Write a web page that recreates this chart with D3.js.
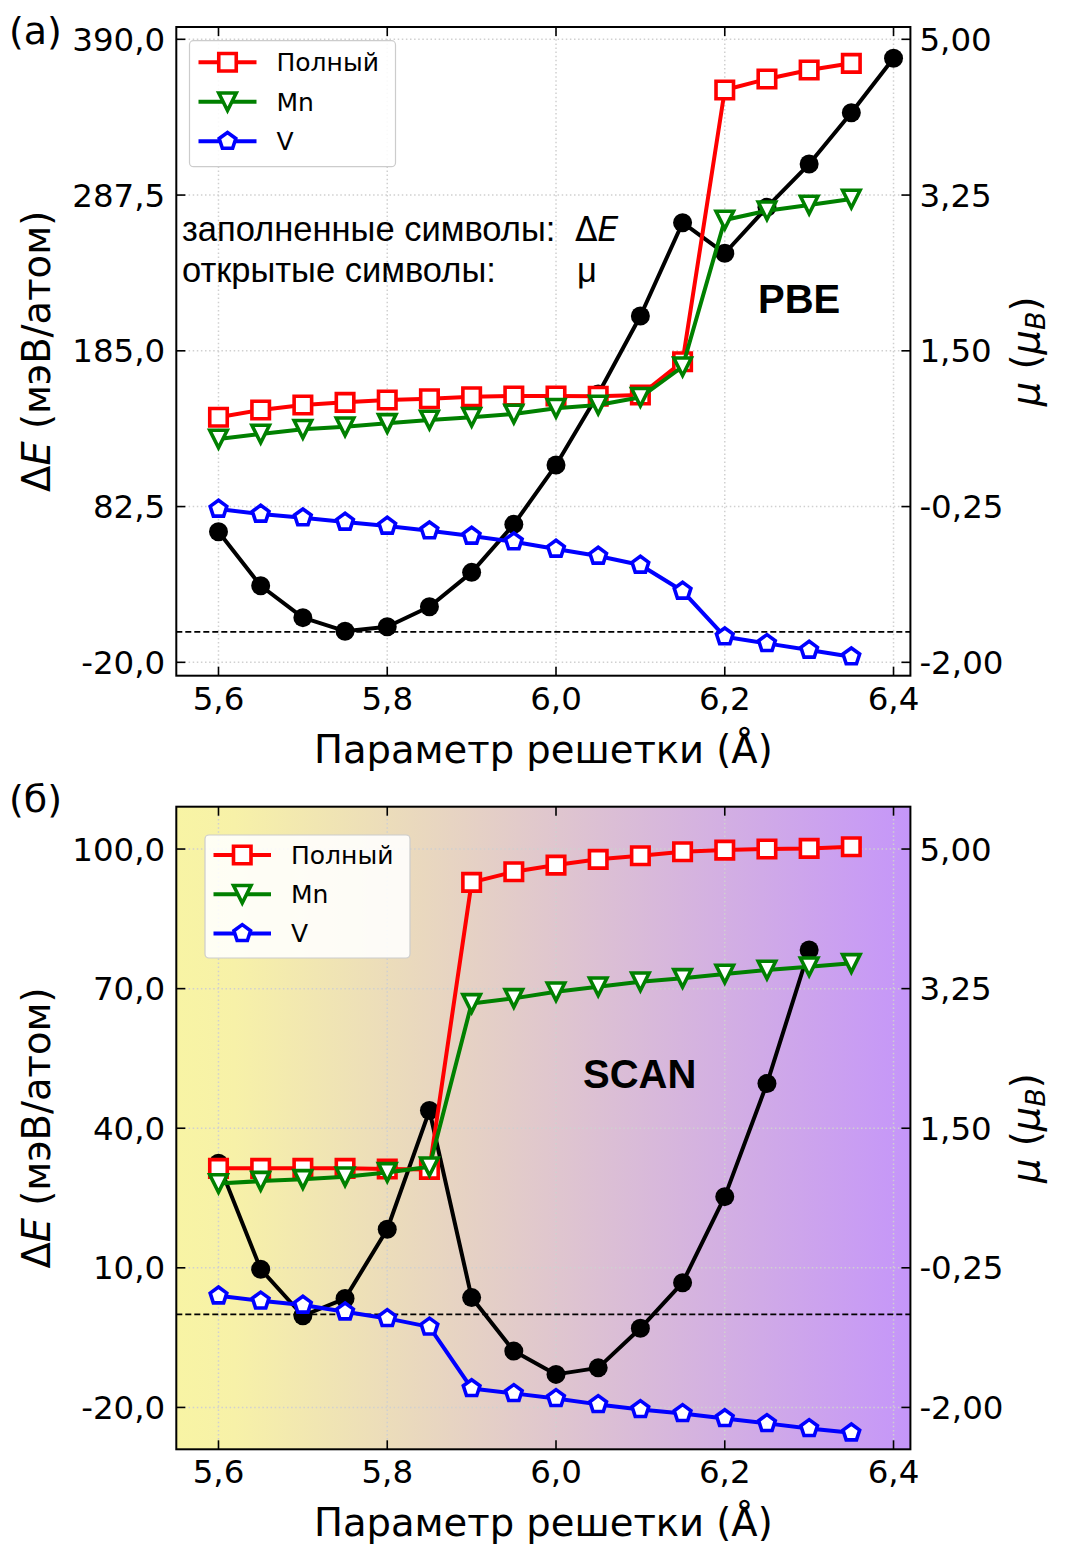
<!DOCTYPE html>
<html><head><meta charset="utf-8">
<script src="https://cdn.jsdelivr.net/npm/d3@7"></script>
<style>body{margin:0;background:#fff} svg{display:block}</style>
</head><body>
<svg id="c" width="1065" height="1546"></svg>
<script>
// ---------------- data ----------------
const latticeE = [5.6,5.65,5.7,5.75,5.8,5.85,5.9,5.95,6.0,6.05,6.1,6.15,6.2,6.25,6.3,6.35,6.4];
const latticeMu = [5.6,5.65,5.7,5.75,5.8,5.85,5.9,5.95,6.0,6.05,6.1,6.15,6.2,6.25,6.3,6.35];
const latticeScanE = [5.6,5.65,5.7,5.75,5.8,5.85,5.9,5.95,6.0,6.05,6.1,6.15,6.2,6.25,6.3];

const pbeDeltaE = [65.9,30.4,9.4,0.5,3.4,16.6,39.2,70.8,109.8,156.6,207.9,269.3,249.2,279.5,307.9,341.7,377.5];
const pbeTotal  = [0.753,0.835,0.891,0.921,0.947,0.962,0.984,0.992,0.992,0.99,1.003,1.378,4.430,4.554,4.655,4.730];
const pbeMn     = [0.509,0.565,0.618,0.647,0.685,0.722,0.753,0.790,0.854,0.891,0.978,1.321,2.970,3.074,3.138,3.206];
const pbeV      = [-0.278,-0.334,-0.375,-0.424,-0.469,-0.521,-0.581,-0.645,-0.727,-0.806,-0.907,-1.199,-1.712,-1.787,-1.862,-1.937];

const scanDeltaE = [32.5,9.7,-0.3,3.4,18.3,43.8,3.6,-7.9,-12.9,-11.5,-3.0,6.8,25.3,49.6,78.3];
const scanTotal  = [0.997,0.997,0.997,0.997,0.988,0.984,4.582,4.715,4.799,4.871,4.916,4.966,4.987,5.0,5.008,5.029];
const scanMn     = [0.808,0.837,0.859,0.891,0.946,1.017,3.065,3.128,3.211,3.274,3.336,3.379,3.433,3.483,3.524,3.567];
const scanV      = [-0.601,-0.664,-0.717,-0.801,-0.884,-0.990,-1.762,-1.824,-1.887,-1.962,-2.025,-2.075,-2.138,-2.2,-2.263,-2.318];

const xTicks = [5.6,5.8,6.0,6.2,6.4];
const pbeLeftTicks = [-20,82.5,185,287.5,390];
const scanLeftTicks = [-20,10,40,70,100];
const muTicks = [-2,-0.25,1.5,3.25,5];
const seriesNames = ["Полный","Mn","V"];
const seriesColors = ["#ff0000","#008000","#0000ff"];
const seriesMarkers = ["square","tri","pent"];

// ---------------- helpers ----------------
const svg = d3.select("#c");
const FONT = "DejaVu Sans";
const dec = (v,n) => d3.format("."+n+"f")(v).replace("\u2212","-").replace(".",",");
const MS = 17.5, LW = 4, MEW = 3.6;
function markerPath(kind){
  const h = MS/2;
  if(kind==="square") return `M${-h},${-h}H${h}V${h}H${-h}Z`;
  if(kind==="tri") return `M0,${h}L${-h},${-h}L${h},${-h}Z`;
  const p=[];
  for(let i=0;i<5;i++){const a=-Math.PI/2+i*2*Math.PI/5;p.push([h*Math.cos(a),h*Math.sin(a)]);}
  return "M"+p.map(d=>d[0].toFixed(2)+","+d[1].toFixed(2)).join("L")+"Z";
}

const defs = svg.append("defs");
const grad = defs.append("linearGradient").attr("id","bg").attr("x1","0").attr("x2","1").attr("y1","0").attr("y2","0");
grad.append("stop").attr("offset","0").attr("stop-color","#f8f4a4");
grad.append("stop").attr("offset","0.08").attr("stop-color","#f7f1a8");
grad.append("stop").attr("offset","1").attr("stop-color","#c596f9");

function drawPanel(cfg){
  const g = svg.append("g");
  const x = d3.scaleLinear().domain([5.55,6.42]).range([cfg.x0,cfg.x1]);
  const y = d3.scaleLinear().domain(cfg.yDom).range([cfg.y1,cfg.y0]);
  const toMu = v => -2 + (v - cfg.eLo)*7/(cfg.eHi - cfg.eLo);
  const yR = d3.scaleLinear().domain([toMu(cfg.yDom[0]),toMu(cfg.yDom[1])]).range([cfg.y1,cfg.y0]);

  if(cfg.gradient){
    g.append("rect").attr("x",cfg.x0).attr("y",cfg.y0).attr("width",cfg.x1-cfg.x0).attr("height",cfg.y1-cfg.y0).attr("fill","url(#bg)");
  }
  // grid
  const grid = g.append("g").attr("stroke","#d0d0d0").attr("stroke-width",1.5).attr("stroke-dasharray","1.5,2.6");
  xTicks.forEach(t=>grid.append("line").attr("x1",x(t)).attr("x2",x(t)).attr("y1",cfg.y0).attr("y2",cfg.y1));
  cfg.yTicks.forEach(t=>grid.append("line").attr("x1",cfg.x0).attr("x2",cfg.x1).attr("y1",y(t)).attr("y2",y(t)));
  // zero line
  g.append("line").attr("x1",cfg.x0).attr("x2",cfg.x1).attr("y1",y(0)).attr("y2",y(0))
    .attr("stroke","#000").attr("stroke-width",1.8).attr("stroke-dasharray","6,3");

  // ΔE series
  const eData = cfg.eX.map((v,i)=>[v,cfg.dE[i]]);
  g.append("path").attr("d",d3.line().x(d=>x(d[0])).y(d=>y(d[1]))(eData))
    .attr("fill","none").attr("stroke","#000").attr("stroke-width",LW).attr("stroke-linejoin","round");
  g.selectAll(null).data(eData).enter().append("circle")
    .attr("cx",d=>x(d[0])).attr("cy",d=>y(d[1])).attr("r",9.5).attr("fill","#000");

  // μ series
  cfg.mu.forEach((arr,k)=>{
    const data = latticeMu.map((v,i)=>[v,arr[i]]);
    g.append("path").attr("d",d3.line().x(d=>x(d[0])).y(d=>yR(d[1]))(data))
      .attr("fill","none").attr("stroke",seriesColors[k]).attr("stroke-width",LW).attr("stroke-linejoin","round");
    g.selectAll(null).data(data).enter().append("path")
      .attr("d",markerPath(seriesMarkers[k]))
      .attr("transform",d=>`translate(${x(d[0])},${yR(d[1])})`)
      .attr("fill","#fff").attr("stroke",seriesColors[k]).attr("stroke-width",MEW).attr("stroke-linejoin","miter");
  });

  // legend
  const L = cfg.legend;
  g.append("rect").attr("x",L.x).attr("y",L.y).attr("width",L.w).attr("height",L.h).attr("rx",4)
    .attr("fill","#fff").attr("fill-opacity",0.88).attr("stroke","#cccccc").attr("stroke-width",1.2);
  seriesNames.forEach((nm,k)=>{
    const ry = L.y + L.row0 + k*L.dy;
    g.append("line").attr("x1",L.x+L.lx0).attr("x2",L.x+L.lx1).attr("y1",ry).attr("y2",ry)
      .attr("stroke",seriesColors[k]).attr("stroke-width",LW);
    g.append("path").attr("d",markerPath(seriesMarkers[k])).attr("transform",`translate(${L.x+(L.lx0+L.lx1)/2},${ry})`)
      .attr("fill","#fff").attr("stroke",seriesColors[k]).attr("stroke-width",MEW);
    g.append("text").attr("x",L.x+L.tx).attr("y",ry+9).attr("font-family",FONT).attr("font-size",25).text(nm);
  });

  // spines
  g.append("rect").attr("x",cfg.x0).attr("y",cfg.y0).attr("width",cfg.x1-cfg.x0).attr("height",cfg.y1-cfg.y0)
    .attr("fill","none").attr("stroke","#000").attr("stroke-width",2);
  // ticks (inward)
  const tk = g.append("g").attr("stroke","#000").attr("stroke-width",1.6);
  const TL = 9;
  xTicks.forEach(t=>{
    tk.append("line").attr("x1",x(t)).attr("x2",x(t)).attr("y1",cfg.y1).attr("y2",cfg.y1-TL);
    tk.append("line").attr("x1",x(t)).attr("x2",x(t)).attr("y1",cfg.y0).attr("y2",cfg.y0+TL);
  });
  cfg.yTicks.forEach(t=>tk.append("line").attr("x1",cfg.x0).attr("x2",cfg.x0+TL).attr("y1",y(t)).attr("y2",y(t)));
  muTicks.forEach(t=>tk.append("line").attr("x1",cfg.x1).attr("x2",cfg.x1-TL).attr("y1",yR(t)).attr("y2",yR(t)));

  // tick labels
  const TF = 32.5;
  xTicks.forEach(t=>g.append("text").attr("x",x(t)).attr("y",cfg.y1+34).attr("text-anchor","middle")
    .attr("font-family",FONT).attr("font-size",TF).text(dec(t,1)));
  cfg.yTicks.forEach(t=>g.append("text").attr("x",cfg.x0-11).attr("y",y(t)+11.5).attr("text-anchor","end")
    .attr("font-family",FONT).attr("font-size",TF).text(dec(t,1)));
  muTicks.forEach(t=>g.append("text").attr("x",cfg.x1+9).attr("y",yR(t)+11.5).attr("text-anchor","start")
    .attr("font-family",FONT).attr("font-size",TF).text(dec(t,2)));

  // axis labels
  const AF = 38.5;
  const cy = (cfg.y0+cfg.y1)/2;
  g.append("text").attr("x",(cfg.x0+cfg.x1)/2).attr("y",cfg.y1+87).attr("text-anchor","middle")
    .attr("font-family",FONT).attr("font-size",AF).text("Параметр решетки (Å)");
  const yl = g.append("text").attr("transform",`translate(50,${cy}) rotate(-90)`).attr("text-anchor","middle")
    .attr("font-family",FONT).attr("font-size",AF);
  yl.append("tspan").text("Δ");
  yl.append("tspan").attr("font-style","italic").text("E");
  yl.append("tspan").text(" (мэВ/атом)");
  const yr = g.append("text").attr("transform",`translate(1039,${cy}) rotate(-90)`).attr("text-anchor","middle")
    .attr("font-family",FONT).attr("font-size",AF);
  yr.append("tspan").attr("font-style","italic").text("μ");
  yr.append("tspan").text(" (");
  yr.append("tspan").attr("font-style","italic").text("μ");
  yr.append("tspan").attr("font-style","italic").attr("font-size",AF*0.7).attr("dy",6).text("B");
  yr.append("tspan").attr("dy",-6).text(")");

  // panel label
  g.append("text").attr("x",9).attr("y",cfg.labelY).attr("font-family",FONT).attr("font-size",38).text(cfg.label);
  // method label
  g.append("text").attr("x",cfg.method.x).attr("y",cfg.method.y).attr("font-family","Liberation Sans")
    .attr("font-weight","bold").attr("font-size",40).text(cfg.method.t);
  return g;
}

const topPanel = drawPanel({
  x0:176.3,x1:910.4,y0:27,y1:675.7,yDom:[-28.8,398.1],eLo:-20,eHi:390,
  yTicks:pbeLeftTicks, eX:latticeE, dE:pbeDeltaE, mu:[pbeTotal,pbeMn,pbeV],
  legend:{x:189.5,y:40.7,w:206,h:126,row0:21.5,dy:39.5,lx0:9,lx1:67,tx:87},
  label:"(a)", labelY:44, method:{x:758,y:313,t:"PBE"}
});
// annotation (top panel)
const ann = topPanel.append("g").attr("font-family","Liberation Sans").attr("font-size",34.5);
ann.append("text").attr("x",182).attr("y",241).text("заполненные символы:");
ann.append("text").attr("x",182).attr("y",282).text("открытые символы:");
const dEl = ann.append("text").attr("x",575).attr("y",241).attr("font-family",FONT).attr("font-size",33);
dEl.append("tspan").text("Δ");
dEl.append("tspan").attr("font-style","italic").text("E");
ann.append("text").attr("x",577).attr("y",282).text("μ");

drawPanel({
  x0:176.3,x1:910.4,y0:806.7,y1:1449.3,yDom:[-29.0,109.1],eLo:-20,eHi:100,gradient:true,
  yTicks:scanLeftTicks, eX:latticeScanE, dE:scanDeltaE, mu:[scanTotal,scanMn,scanV],
  legend:{x:205,y:835,w:205,h:123,row0:20,dy:39.2,lx0:8.5,lx1:66,tx:86},
  label:"(б)", labelY:812, method:{x:583,y:1088,t:"SCAN"}
});
</script>
</body></html>
